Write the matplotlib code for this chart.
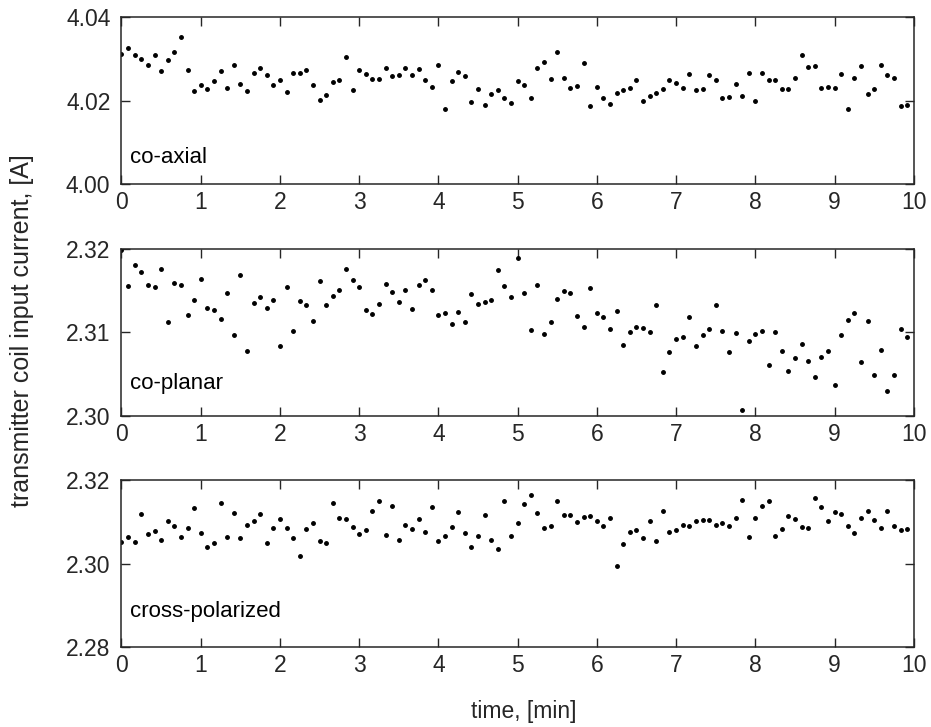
import numpy as np
import matplotlib
matplotlib.use("Agg")
import matplotlib.pyplot as plt

plt.rcParams["font.family"] = ["Liberation Sans", "DejaVu Sans"]
plt.rcParams["font.size"] = 16

# ===============================================
# DATA (one sample every 5 s)
# ===============================================
time_min = np.arange(120) * 5 / 60.0

coaxial = [
    4.0311, 4.0325, 4.0309, 4.0300, 4.0284, 4.0308, 4.0271, 4.0296, 4.0316, 4.0353,
    4.0273, 4.0222, 4.0236, 4.0228, 4.0247, 4.0270, 4.0231, 4.0286, 4.0239, 4.0223,
    4.0267, 4.0278, 4.0262, 4.0236, 4.0248, 4.0220, 4.0266, 4.0266, 4.0273, 4.0236,
    4.0202, 4.0213, 4.0244, 4.0250, 4.0304, 4.0225, 4.0272, 4.0264, 4.0251, 4.0251,
    4.0277, 4.0259, 4.0260, 4.0277, 4.0260, 4.0276, 4.0249, 4.0232, 4.0286, 4.0179,
    4.0246, 4.0268, 4.0259, 4.0196, 4.0227, 4.0189, 4.0216, 4.0224, 4.0205, 4.0194,
    4.0247, 4.0238, 4.0207, 4.0279, 4.0292, 4.0251, 4.0316, 4.0255, 4.0231, 4.0235,
    4.0289, 4.0186, 4.0233, 4.0205, 4.0192, 4.0218, 4.0224, 4.0231, 4.0250, 4.0199,
    4.0210, 4.0217, 4.0227, 4.0248, 4.0243, 4.0231, 4.0264, 4.0224, 4.0227, 4.0261,
    4.0249, 4.0205, 4.0208, 4.0239, 4.0210, 4.0267, 4.0198, 4.0267, 4.0248, 4.0248,
    4.0228, 4.0228, 4.0255, 4.0310, 4.0281, 4.0283, 4.0229, 4.0233, 4.0230, 4.0263,
    4.0179, 4.0255, 4.0282, 4.0216, 4.0227, 4.0284, 4.0261, 4.0255, 4.0187, 4.0190,
]

coplanar = [
    2.3198, 2.3155, 2.3180, 2.3172, 2.3157, 2.3154, 2.3176, 2.3112, 2.3159, 2.3157,
    2.3121, 2.3138, 2.3164, 2.3129, 2.3127, 2.3116, 2.3147, 2.3097, 2.3168, 2.3078,
    2.3135, 2.3142, 2.3129, 2.3139, 2.3083, 2.3154, 2.3101, 2.3137, 2.3133, 2.3113,
    2.3161, 2.3132, 2.3143, 2.3151, 2.3176, 2.3162, 2.3154, 2.3126, 2.3122, 2.3134,
    2.3158, 2.3148, 2.3136, 2.3150, 2.3128, 2.3156, 2.3162, 2.3150, 2.3121, 2.3123,
    2.3110, 2.3124, 2.3112, 2.3146, 2.3134, 2.3136, 2.3139, 2.3175, 2.3155, 2.3142,
    2.3189, 2.3147, 2.3103, 2.3156, 2.3098, 2.3112, 2.3140, 2.3149, 2.3147, 2.3119,
    2.3106, 2.3153, 2.3123, 2.3118, 2.3104, 2.3125, 2.3085, 2.3100, 2.3106, 2.3105,
    2.3100, 2.3132, 2.3052, 2.3076, 2.3092, 2.3094, 2.3118, 2.3084, 2.3097, 2.3104,
    2.3132, 2.3102, 2.3076, 2.3099, 2.3007, 2.3090, 2.3098, 2.3101, 2.3061, 2.3100,
    2.3077, 2.3054, 2.3069, 2.3086, 2.3065, 2.3046, 2.3070, 2.3078, 2.3037, 2.3097,
    2.3115, 2.3123, 2.3064, 2.3113, 2.3049, 2.3079, 2.3030, 2.3049, 2.3104, 2.3094,
]

crosspol = [
    2.3051, 2.3063, 2.3051, 2.3119, 2.3071, 2.3077, 2.3057, 2.3103, 2.3089, 2.3063,
    2.3084, 2.3133, 2.3072, 2.3039, 2.3050, 2.3145, 2.3063, 2.3121, 2.3061, 2.3092,
    2.3103, 2.3118, 2.3049, 2.3084, 2.3107, 2.3084, 2.3061, 2.3018, 2.3083, 2.3098,
    2.3054, 2.3049, 2.3145, 2.3108, 2.3107, 2.3088, 2.3071, 2.3081, 2.3126, 2.3149,
    2.3068, 2.3138, 2.3056, 2.3092, 2.3083, 2.3107, 2.3076, 2.3135, 2.3055, 2.3066,
    2.3087, 2.3123, 2.3073, 2.3040, 2.3066, 2.3116, 2.3057, 2.3036, 2.3149, 2.3066,
    2.3096, 2.3142, 2.3163, 2.3122, 2.3085, 2.3089, 2.3149, 2.3116, 2.3116, 2.3099,
    2.3111, 2.3115, 2.3101, 2.3090, 2.3109, 2.2994, 2.3047, 2.3075, 2.3080, 2.3060,
    2.3101, 2.3055, 2.3126, 2.3076, 2.3080, 2.3092, 2.3089, 2.3103, 2.3104, 2.3104,
    2.3093, 2.3097, 2.3091, 2.3108, 2.3153, 2.3064, 2.3108, 2.3139, 2.3149, 2.3067,
    2.3083, 2.3115, 2.3106, 2.3087, 2.3084, 2.3156, 2.3136, 2.3102, 2.3124, 2.3119,
    2.3091, 2.3074, 2.3109, 2.3127, 2.3105, 2.3084, 2.3127, 2.3090, 2.3081, 2.3083,
]

panel_names = ["co-axial", "co-planar", "cross-polarized"]
panel_yticks = [[4.00, 4.02, 4.04], [2.30, 2.31, 2.32], [2.28, 2.30, 2.32]]
x_ticks = list(range(0, 11))

# ===============================================
# FIGURE
# ===============================================
fig = plt.figure(figsize=(9.31, 7.27), dpi=100)

left, width, height = 0.1305, 0.851, 0.2297
bottoms = [0.7469, 0.4282, 0.1100]
label_y = [0.16, 0.19, 0.21]
axis_color = "#262626"

for k, (series, name, yt) in enumerate(zip([coaxial, coplanar, crosspol],
                                           panel_names, panel_yticks)):
    ax = fig.add_axes([left, bottoms[k], width, height])
    ax.plot(time_min, series, ".", color="black", markersize=5)

    ax.set_xlim(0, 10)
    ax.set_ylim(yt[0], yt[-1])
    ax.set_xticks(x_ticks)
    ax.set_yticks(yt)
    ax.set_yticklabels([f"{v:.2f}" for v in yt])

    ax.tick_params(direction="in", length=6.5, width=1.0, top=True, right=True,
                   colors=axis_color, labelcolor=axis_color, labelsize=16.5)
    ax.tick_params(axis="y", pad=8)
    ax.tick_params(axis="x", pad=5)
    for sp in ax.spines.values():
        sp.set_linewidth(1.1)
        sp.set_color(axis_color)

    # panel name inside the axes
    ax.text(0.011, label_y[k], name, transform=ax.transAxes,
            fontsize=16, color="black", va="center", ha="left")

fig.text(0.024, 0.545, "transmitter coil input current, [A]", rotation=90,
         fontsize=18, color=axis_color, ha="center", va="center")
fig.text(0.563, 0.022, "time, [min]", fontsize=16.5, color=axis_color,
         ha="center", va="center")

plt.savefig("out.png", dpi=100)
plt.close()
